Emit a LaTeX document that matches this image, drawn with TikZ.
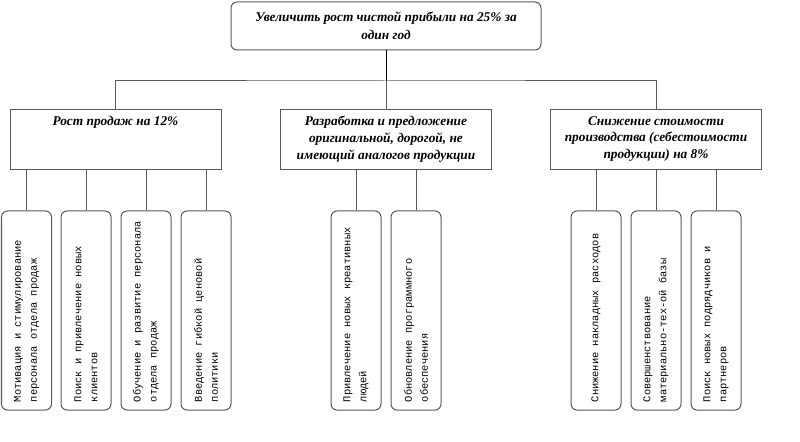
\documentclass[tikz,border=0pt]{standalone}
\usepackage{fontspec}
\setmainfont{Liberation Serif}
\setmonofont{Liberation Mono}
\begin{document}
\begin{tikzpicture}[x=0.75pt,y=-0.75pt,
  conn/.style={draw=black!65, line width=0.75pt},
  topbox/.style={draw=black!65, line width=0.75pt, rounded corners=4.5pt,
    minimum width=232.5pt, minimum height=36pt, inner sep=0pt, align=center,
    font=\fontsize{10}{13.5}\selectfont\bfseries\itshape},
  midbox/.style={draw=black!65, line width=0.75pt, minimum width=158.25pt,
    minimum height=45pt, inner sep=0pt},
  midtext/.style={anchor=north, inner sep=0pt, align=center,
    font=\fontsize{10}{12.4}\selectfont\bfseries\itshape},
  botbox/.style={draw=black!65, line width=0.75pt, rounded corners=4.5pt,
    minimum width=37.5pt, minimum height=149.25pt, inner sep=0pt},
  bottext/.style={rotate=90, anchor=west, inner sep=0pt, align=left,
    font=\fontsize{7.8}{12}\selectfont\ttfamily}
]
\useasboundingbox (0,0) rectangle (800,442);

% top
\node[topbox] (top) at (386,26) {Увеличить рост чистой прибыли на 25\% за\\один год};

% middle level
\node[midbox] (m1) at (115.5,140) {};
\node[midbox] (m2) at (386,140) {};
\node[midbox] (m3) at (656,140) {};
\node[midtext] (m1t) at ([yshift=-5pt]m1.north) {Рост продаж на 12\%};
\node[midtext] (m2t) at ([yshift=-5pt]m2.north) {Разработка и предложение\\оригинальной, дорогой, не\\имеющий аналогов продукции};
\node[midtext] (m3t) at ([yshift=-5pt]m3.north) {Снижение стоимости\\производства (себестоимости\\продукции) на 8\%};

% connectors top -> middle
\coordinate (hub) at (386,81);
\draw[line width=0.75pt, draw=black] (top.south) -- (hub);
\draw[conn] (m1.north) |- (hub) -| (m3.north);
\draw[conn] (hub) -- (m2.north);

% bottom boxes
\node[botbox] (b1) at (26.5,310.5) {};
\node[botbox] (b2) at (86,310.5) {};
\node[botbox] (b3) at (146,310.5) {};
\node[botbox] (b4) at (206,310.5) {};
\node[botbox] (b5) at (356,310.5) {};
\node[botbox] (b6) at (416,310.5) {};
\node[botbox] (b7) at (596,310.5) {};
\node[botbox] (b8) at (656,310.5) {};
\node[botbox] (b9) at (716,310.5) {};

\node[bottext] (t1) at ([yshift=6pt]b1.south) {Мотивация и стимулирование\\персонала отдела продаж};
\node[bottext] (t2) at ([yshift=6pt]b2.south) {Поиск и привлечение новых\\клиентов};
\node[bottext] (t3) at ([yshift=6pt]b3.south) {Обучение и развитие персонала\\отдела продаж};
\node[bottext] (t4) at ([yshift=6pt]b4.south) {Введение гибкой ценовой\\политики};
\node[bottext] (t5) at ([yshift=6pt]b5.south) {Привлечение новых креативных\\людей};
\node[bottext] (t6) at ([yshift=6pt]b6.south) {Обновление программного\\обеспечения};
\node[bottext] (t7) at ([yshift=6pt]b7.south) {Снижение накладных расходов};
\node[bottext] (t8) at ([yshift=6pt]b8.south) {Совершенствование\\материально-тех-ой базы};
\node[bottext] (t9) at ([yshift=6pt]b9.south) {Поиск новых подрядчиков и\\партнеров};

% connectors middle -> bottom
\foreach \b/\m in {b1/m1,b2/m1,b3/m1,b4/m1,b5/m2,b6/m2,b7/m3,b8/m3,b9/m3}
  \draw[conn] (\b.north) -- (\b.north |- \m.south);
\end{tikzpicture}
\end{document}
